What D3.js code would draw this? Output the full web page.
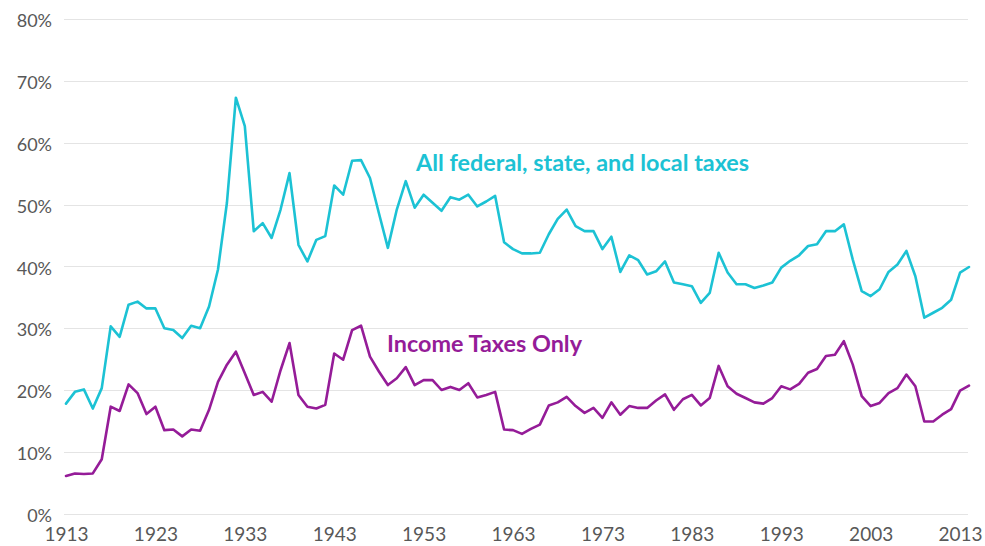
<!DOCTYPE html>
<html>
<head>
<meta charset="utf-8">
<script src="https://cdn.jsdelivr.net/npm/d3@7"></script>
<style>
  body { margin: 0; background: #fff; }
  #chart text { font-family: Lato, "Open Sans", sans-serif; }
</style>
</head>
<body>
<div id="chart"></div>
<script>
var width = 985,
    height = 546;

var margin = { top: 19, right: 16, bottom: 32, left: 66 };

// years 1913 .. 2014
var firstYear = 1913;

var allTaxes = [
  17.8, 19.7, 20.1, 17.0, 20.3, 30.3, 28.6, 33.8, 34.3, 33.2,
  33.2, 30.0, 29.7, 28.4, 30.4, 30.0, 33.5, 39.5, 50.3, 67.3,
  62.7, 45.7, 47.0, 44.6, 49.2, 55.1, 43.5, 40.8, 44.3, 44.9,
  53.1, 51.6, 57.1, 57.2, 54.3, 48.6, 43.0, 49.2, 53.8, 49.5,
  51.6, 50.3, 49.0, 51.2, 50.8, 51.6, 49.7, 50.5, 51.4, 43.9,
  42.8, 42.1, 42.1, 42.2, 45.2, 47.7, 49.2, 46.5, 45.7, 45.7,
  42.8, 44.8, 39.1, 41.8, 41.0, 38.7, 39.2, 40.8, 37.4, 37.1,
  36.8, 34.1, 35.7, 42.2, 39.0, 37.1, 37.1, 36.5, 36.9, 37.4,
  39.8, 40.9, 41.8, 43.3, 43.6, 45.7, 45.7, 46.8, 41.1, 36.0,
  35.2, 36.3, 39.1, 40.3, 42.5, 38.4, 31.7, 32.5, 33.3, 34.6,
  39.0, 39.9
];

var incomeTaxes = [
  6.1, 6.5, 6.4, 6.5, 8.8, 17.3, 16.6, 20.9, 19.5, 16.1,
  17.3, 13.5, 13.6, 12.5, 13.6, 13.4, 16.8, 21.3, 24.1, 26.2,
  22.7, 19.2, 19.7, 18.1, 23.2, 27.6, 19.2, 17.3, 17.0, 17.6,
  25.9, 24.9, 29.7, 30.4, 25.4, 23.0, 20.8, 21.9, 23.7, 20.8,
  21.6, 21.6, 20.0, 20.5, 20.0, 21.1, 18.8, 19.2, 19.7, 13.6,
  13.5, 12.9, 13.7, 14.4, 17.5, 18.0, 18.9, 17.4, 16.3, 17.1,
  15.5, 18.0, 16.0, 17.4, 17.1, 17.1, 18.3, 19.3, 16.8, 18.5,
  19.2, 17.5, 18.7, 23.9, 20.6, 19.4, 18.7, 18.0, 17.8, 18.7,
  20.6, 20.1, 21.0, 22.8, 23.4, 25.5, 25.7, 27.9, 24.1, 19.0,
  17.4, 17.9, 19.5, 20.3, 22.5, 20.6, 14.9, 14.9, 16.0, 16.9,
  19.9, 20.7
];

var xTicks = [1913, 1923, 1933, 1943, 1953, 1963, 1973, 1983, 1993, 2003, 2013];
var yTicks = [0, 10, 20, 30, 40, 50, 60, 70, 80];

var seriesNames = ["All federal, state, and local taxes", "Income Taxes Only"];
var seriesColors = ["#1cc2d4", "#951c98"];

var years = allTaxes.map(function(d, i) { return firstYear + i; });

var x = d3.scaleLinear()
    .domain([firstYear, years[years.length - 1]])
    .range([margin.left, 969]);

var y = d3.scaleLinear()
    .domain([0, 80])
    .range([513.6, margin.top + 0.2]);

var svg = d3.select("#chart").append("svg")
    .attr("width", width)
    .attr("height", height);

// grid lines
svg.append("g")
  .selectAll("line")
  .data(yTicks)
  .enter().append("line")
    .attr("x1", margin.left - 2)
    .attr("x2", 968)
    .attr("y1", function(d) { return Math.round(y(d)) + 0.5; })
    .attr("y2", function(d) { return Math.round(y(d)) + 0.5; })
    .attr("stroke", "#e4e4e4")
    .attr("stroke-width", 1.2);

// y axis labels
var yAxis = svg.append("g")
    .attr("transform", "translate(" + (margin.left - 14) + ",2)")
    .call(d3.axisLeft(y).tickValues(yTicks).tickSize(0).tickPadding(0)
      .tickFormat(function(d) { return d + "%"; }));
yAxis.select(".domain").remove();
yAxis.selectAll("text")
    .attr("fill", "#585858")
    .style("font-size", "18px");

// x axis labels
var xAxis = svg.append("g")
    .attr("transform", "translate(0," + 527 + ")")
    .call(d3.axisBottom(x).tickValues(xTicks).tickSize(0).tickPadding(0)
      .tickFormat(d3.format("d")));
xAxis.select(".domain").remove();
xAxis.selectAll("text")
    .attr("fill", "#585858")
    .style("font-size", "19px");

var line = d3.line()
    .x(function(d, i) { return x(years[i]); })
    .y(function(d) { return y(d); });

[allTaxes, incomeTaxes].forEach(function(s, k) {
  svg.append("path")
      .datum(s)
      .attr("fill", "none")
      .attr("stroke", seriesColors[k])
      .attr("stroke-width", 2.6)
      .attr("stroke-linejoin", "round")
      .attr("stroke-linecap", "round")
      .attr("d", line);
});

// series labels
svg.append("text")
    .attr("x", 416)
    .attr("y", 171)
    .attr("fill", seriesColors[0])
    .style("font-size", "23.4px")
    .style("font-weight", "bold")
    .text(seriesNames[0]);

svg.append("text")
    .attr("x", 387)
    .attr("y", 352)
    .attr("fill", seriesColors[1])
    .style("font-size", "23.4px")
    .style("font-weight", "bold")
    .text(seriesNames[1]);
</script>
</body>
</html>
